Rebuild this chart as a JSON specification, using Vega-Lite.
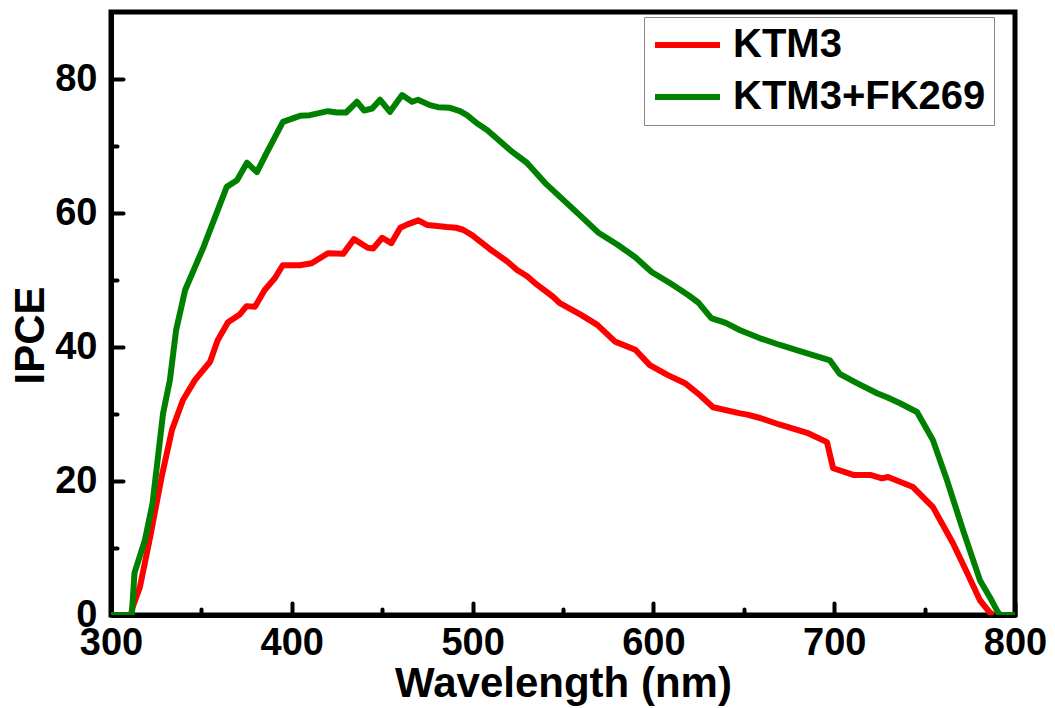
{
  "$schema": "https://vega.github.io/schema/vega-lite/v6.json",
  "autosize": "none",
  "padding": {"left": 111, "top": 12, "right": 40, "bottom": 93},
  "width": 904,
  "height": 603,
  "background": "white",
  "config": {
    "font": "Liberation Sans",
    "view": {"stroke": "black", "strokeWidth": 5},
    "axis": {"grid": false, "domainColor": "black", "domainWidth": 5, "tickColor": "black", "tickWidth": 4, "tickCap": "round", "labelColor": "black", "labelFont": "Liberation Sans", "labelFontWeight": "bold", "labelFontSize": 38, "titleFont": "Liberation Sans", "titleFontWeight": "bold", "titleFontSize": 42, "titleColor": "black", "labelOverlap": false, "labelFlush": false}
  },
  "data": {"values": [
    {"series": "KTM3", "wl": 300, "ipce": 0},
    {"series": "KTM3", "wl": 311, "ipce": 0},
    {"series": "KTM3", "wl": 312, "ipce": 1.2},
    {"series": "KTM3", "wl": 316, "ipce": 4.2},
    {"series": "KTM3", "wl": 321.6, "ipce": 11.6},
    {"series": "KTM3", "wl": 328, "ipce": 20.6},
    {"series": "KTM3", "wl": 333.7, "ipce": 27.6},
    {"series": "KTM3", "wl": 339.8, "ipce": 32.1},
    {"series": "KTM3", "wl": 346.5, "ipce": 35.1},
    {"series": "KTM3", "wl": 354.8, "ipce": 37.8},
    {"series": "KTM3", "wl": 359, "ipce": 41},
    {"series": "KTM3", "wl": 364.7, "ipce": 43.7},
    {"series": "KTM3", "wl": 371, "ipce": 44.8},
    {"series": "KTM3", "wl": 375, "ipce": 46.1},
    {"series": "KTM3", "wl": 379.6, "ipce": 46},
    {"series": "KTM3", "wl": 385, "ipce": 48.5},
    {"series": "KTM3", "wl": 390.7, "ipce": 50.3},
    {"series": "KTM3", "wl": 395, "ipce": 52.2},
    {"series": "KTM3", "wl": 404.5, "ipce": 52.2},
    {"series": "KTM3", "wl": 411, "ipce": 52.5},
    {"series": "KTM3", "wl": 420, "ipce": 54},
    {"series": "KTM3", "wl": 428.4, "ipce": 53.9},
    {"series": "KTM3", "wl": 434.4, "ipce": 56.1},
    {"series": "KTM3", "wl": 442, "ipce": 54.8},
    {"series": "KTM3", "wl": 445, "ipce": 54.7},
    {"series": "KTM3", "wl": 450, "ipce": 56.3},
    {"series": "KTM3", "wl": 455, "ipce": 55.5},
    {"series": "KTM3", "wl": 460, "ipce": 57.8},
    {"series": "KTM3", "wl": 464, "ipce": 58.3},
    {"series": "KTM3", "wl": 470, "ipce": 58.9},
    {"series": "KTM3", "wl": 475, "ipce": 58.2},
    {"series": "KTM3", "wl": 485.8, "ipce": 57.9},
    {"series": "KTM3", "wl": 490.8, "ipce": 57.8},
    {"series": "KTM3", "wl": 494.7, "ipce": 57.5},
    {"series": "KTM3", "wl": 499.7, "ipce": 56.7},
    {"series": "KTM3", "wl": 509.6, "ipce": 54.6},
    {"series": "KTM3", "wl": 519, "ipce": 52.8},
    {"series": "KTM3", "wl": 524.6, "ipce": 51.5},
    {"series": "KTM3", "wl": 530, "ipce": 50.6},
    {"series": "KTM3", "wl": 535.6, "ipce": 49.3},
    {"series": "KTM3", "wl": 544.5, "ipce": 47.5},
    {"series": "KTM3", "wl": 548, "ipce": 46.6},
    {"series": "KTM3", "wl": 560, "ipce": 44.8},
    {"series": "KTM3", "wl": 569, "ipce": 43.3},
    {"series": "KTM3", "wl": 578.8, "ipce": 40.8},
    {"series": "KTM3", "wl": 590, "ipce": 39.6},
    {"series": "KTM3", "wl": 598, "ipce": 37.3},
    {"series": "KTM3", "wl": 608, "ipce": 35.8},
    {"series": "KTM3", "wl": 617.5, "ipce": 34.6},
    {"series": "KTM3", "wl": 625.8, "ipce": 32.8},
    {"series": "KTM3", "wl": 633, "ipce": 31.0},
    {"series": "KTM3", "wl": 648, "ipce": 30.1},
    {"series": "KTM3", "wl": 652, "ipce": 29.9},
    {"series": "KTM3", "wl": 659, "ipce": 29.4},
    {"series": "KTM3", "wl": 670, "ipce": 28.4},
    {"series": "KTM3", "wl": 685, "ipce": 27.2},
    {"series": "KTM3", "wl": 696, "ipce": 25.8},
    {"series": "KTM3", "wl": 699.4, "ipce": 21.9},
    {"series": "KTM3", "wl": 710.6, "ipce": 20.9},
    {"series": "KTM3", "wl": 720, "ipce": 20.9},
    {"series": "KTM3", "wl": 726.4, "ipce": 20.4},
    {"series": "KTM3", "wl": 729.8, "ipce": 20.6},
    {"series": "KTM3", "wl": 743.6, "ipce": 19.1},
    {"series": "KTM3", "wl": 754.6, "ipce": 16.1},
    {"series": "KTM3", "wl": 765.7, "ipce": 10.7},
    {"series": "KTM3", "wl": 773.5, "ipce": 6.3},
    {"series": "KTM3", "wl": 780.6, "ipce": 2.2},
    {"series": "KTM3", "wl": 786, "ipce": 0.4},
    {"series": "KTM3", "wl": 788, "ipce": 0},
    {"series": "KTM3+FK269", "wl": 300, "ipce": 0},
    {"series": "KTM3+FK269", "wl": 311.5, "ipce": 0},
    {"series": "KTM3+FK269", "wl": 313, "ipce": 6.3},
    {"series": "KTM3+FK269", "wl": 318.8, "ipce": 11.2},
    {"series": "KTM3+FK269", "wl": 323, "ipce": 16.7},
    {"series": "KTM3+FK269", "wl": 328.8, "ipce": 30.1},
    {"series": "KTM3+FK269", "wl": 332.6, "ipce": 35.1},
    {"series": "KTM3+FK269", "wl": 336, "ipce": 42.5},
    {"series": "KTM3+FK269", "wl": 341, "ipce": 48.5},
    {"series": "KTM3+FK269", "wl": 351, "ipce": 54.8},
    {"series": "KTM3+FK269", "wl": 364, "ipce": 63.9},
    {"series": "KTM3+FK269", "wl": 369.7, "ipce": 64.9},
    {"series": "KTM3+FK269", "wl": 375.2, "ipce": 67.5},
    {"series": "KTM3+FK269", "wl": 380.7, "ipce": 66.1},
    {"series": "KTM3+FK269", "wl": 386.3, "ipce": 69.1},
    {"series": "KTM3+FK269", "wl": 395.1, "ipce": 73.6},
    {"series": "KTM3+FK269", "wl": 404.5, "ipce": 74.5},
    {"series": "KTM3+FK269", "wl": 410, "ipce": 74.6},
    {"series": "KTM3+FK269", "wl": 415, "ipce": 74.9},
    {"series": "KTM3+FK269", "wl": 420, "ipce": 75.2},
    {"series": "KTM3+FK269", "wl": 425, "ipce": 75.0},
    {"series": "KTM3+FK269", "wl": 430, "ipce": 75.0},
    {"series": "KTM3+FK269", "wl": 436, "ipce": 76.6},
    {"series": "KTM3+FK269", "wl": 440, "ipce": 75.3},
    {"series": "KTM3+FK269", "wl": 444.5, "ipce": 75.6},
    {"series": "KTM3+FK269", "wl": 448.8, "ipce": 76.9},
    {"series": "KTM3+FK269", "wl": 454.3, "ipce": 75.1},
    {"series": "KTM3+FK269", "wl": 461, "ipce": 77.6},
    {"series": "KTM3+FK269", "wl": 466.5, "ipce": 76.6},
    {"series": "KTM3+FK269", "wl": 469.8, "ipce": 76.9},
    {"series": "KTM3+FK269", "wl": 476.4, "ipce": 76.1},
    {"series": "KTM3+FK269", "wl": 480.9, "ipce": 75.8},
    {"series": "KTM3+FK269", "wl": 487.5, "ipce": 75.7},
    {"series": "KTM3+FK269", "wl": 493, "ipce": 75.2},
    {"series": "KTM3+FK269", "wl": 496.9, "ipce": 74.6},
    {"series": "KTM3+FK269", "wl": 502.4, "ipce": 73.4},
    {"series": "KTM3+FK269", "wl": 508, "ipce": 72.4},
    {"series": "KTM3+FK269", "wl": 520.7, "ipce": 69.4},
    {"series": "KTM3+FK269", "wl": 530, "ipce": 67.5},
    {"series": "KTM3+FK269", "wl": 540, "ipce": 64.5},
    {"series": "KTM3+FK269", "wl": 550, "ipce": 62},
    {"series": "KTM3+FK269", "wl": 560, "ipce": 59.5},
    {"series": "KTM3+FK269", "wl": 569.4, "ipce": 57.1},
    {"series": "KTM3+FK269", "wl": 580, "ipce": 55.3},
    {"series": "KTM3+FK269", "wl": 590, "ipce": 53.4},
    {"series": "KTM3+FK269", "wl": 599, "ipce": 51.2},
    {"series": "KTM3+FK269", "wl": 610, "ipce": 49.4},
    {"series": "KTM3+FK269", "wl": 619, "ipce": 47.8},
    {"series": "KTM3+FK269", "wl": 625, "ipce": 46.6},
    {"series": "KTM3+FK269", "wl": 632, "ipce": 44.3},
    {"series": "KTM3+FK269", "wl": 640, "ipce": 43.6},
    {"series": "KTM3+FK269", "wl": 648, "ipce": 42.5},
    {"series": "KTM3+FK269", "wl": 659, "ipce": 41.3},
    {"series": "KTM3+FK269", "wl": 670, "ipce": 40.3},
    {"series": "KTM3+FK269", "wl": 681, "ipce": 39.4},
    {"series": "KTM3+FK269", "wl": 697.7, "ipce": 38.0},
    {"series": "KTM3+FK269", "wl": 703, "ipce": 36.0},
    {"series": "KTM3+FK269", "wl": 712.6, "ipce": 34.6},
    {"series": "KTM3+FK269", "wl": 723.7, "ipce": 33.1},
    {"series": "KTM3+FK269", "wl": 729.2, "ipce": 32.5},
    {"series": "KTM3+FK269", "wl": 736.4, "ipce": 31.6},
    {"series": "KTM3+FK269", "wl": 745.8, "ipce": 30.3},
    {"series": "KTM3+FK269", "wl": 754.6, "ipce": 26.1},
    {"series": "KTM3+FK269", "wl": 762.4, "ipce": 20.1},
    {"series": "KTM3+FK269", "wl": 771.2, "ipce": 12.7},
    {"series": "KTM3+FK269", "wl": 780.6, "ipce": 5.2},
    {"series": "KTM3+FK269", "wl": 786, "ipce": 2.7},
    {"series": "KTM3+FK269", "wl": 790.6, "ipce": 0.4},
    {"series": "KTM3+FK269", "wl": 792, "ipce": 0},
    {"series": "KTM3+FK269", "wl": 800, "ipce": 0}
  ]},
  "mark": {"type": "line", "strokeWidth": 6, "strokeJoin": "round", "strokeCap": "butt", "clip": true},
  "encoding": {
    "x": {
      "field": "wl", "type": "quantitative",
      "scale": {"domain": [300, 800], "nice": false, "zero": false},
      "axis": {
        "title": "Wavelength (nm)",
        "values": [300, 350, 400, 450, 500, 550, 600, 650, 700, 750, 800],
        "labelExpr": "datum.value % 100 === 0 ? datum.label : ''",
        "tickSize": {"condition": {"test": "datum.value % 100 === 0", "value": -12}, "value": -6},
        "labelPadding": 21,
        "titlePadding": -5
      }
    },
    "y": {
      "field": "ipce", "type": "quantitative",
      "scale": {"domain": [0, 90], "nice": false},
      "axis": {
        "title": "IPCE",
        "values": [0, 10, 20, 30, 40, 50, 60, 70, 80],
        "labelExpr": "datum.value % 20 === 0 ? datum.label : ''",
        "tickSize": {"condition": {"test": "datum.value % 20 === 0", "value": -12}, "value": -6},
        "labelPadding": 26,
        "titleX": -81,
        "titleY": 323,
        "titleBaseline": "middle"
      }
    },
    "color": {
      "field": "series", "type": "nominal",
      "scale": {"domain": ["KTM3", "KTM3+FK269"], "range": ["#FF0000", "#008000"]},
      "legend": {
        "title": null,
        "orient": "none",
        "legendX": 533,
        "legendY": 5,
        "direction": "vertical",
        "symbolType": "stroke",
        "symbolSize": 4225,
        "symbolStrokeWidth": 6,
        "clipHeight": 40,
        "labelFont": "Liberation Sans",
        "labelFontSize": 40,
        "labelFontWeight": "bold",
        "labelColor": "black",
        "labelOffset": 10,
        "rowPadding": 12,
        "padding": 8,
        "strokeColor": "#888888",
        "fillColor": "white",
        "labelLimit": 400
      }
    }
  }
}
